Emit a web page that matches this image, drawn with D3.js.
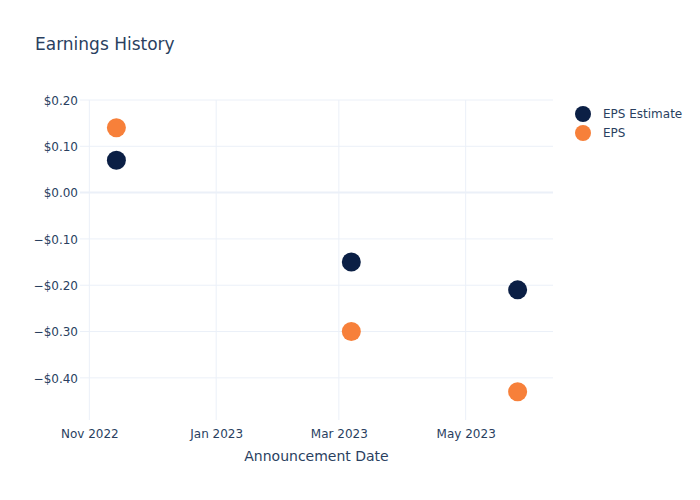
<!DOCTYPE html>
<html><head><meta charset="utf-8">
<script src="https://cdn.jsdelivr.net/npm/d3@7"></script>
<style>body{margin:0;background:#fff;} svg{font-family:"DejaVu Sans",sans-serif;}</style>
</head><body>
<svg id="c" width="700" height="500"></svg>
<script>
const dates = ["2022-11-14", "2023-03-07", "2023-05-26"];
const epsEstimate = [0.07, -0.15, -0.21];
const eps = [0.14, -0.30, -0.43];
const yTicks = [0.2, 0.1, 0, -0.1, -0.2, -0.3, -0.4];
const xTicks = ["2022-11-01", "2023-01-01", "2023-03-01", "2023-05-01"];
const seriesNames = ["EPS Estimate", "EPS"];
const colors = ["#0b1f45", "#f7803a"];

const svg = d3.select("#c");
const W = 700, H = 500, m = {l: 80, r: 147, t: 100, b: 80};
const parse = d3.timeParse("%Y-%m-%d");
const x = d3.scaleTime().domain([d3.timeHour.offset(parse("2022-10-28"), -12), parse("2023-06-12")]).range([m.l, W - m.r]);
const y = d3.scaleLinear().domain([-0.491, 0.2]).range([H - m.b, m.t]);
const grid = "#ebf0f8", txt = "#2a3f5f";
const FF = "'DejaVu Sans',sans-serif";

// grid
svg.append("g").selectAll("line").data(yTicks).join("line")
  .attr("x1", m.l).attr("x2", W - m.r).attr("y1", d => y(d)).attr("y2", d => y(d))
  .attr("stroke", grid).attr("stroke-width", d => d === 0 ? 2 : 1);
svg.append("g").selectAll("line").data(xTicks).join("line")
  .attr("x1", d => x(parse(d))).attr("x2", d => x(parse(d))).attr("y1", m.t).attr("y2", H - m.b)
  .attr("stroke", grid).attr("stroke-width", 1);

// axes via d3 axis
const fmt = d => (d < 0 ? "\u2212" : "") + "$" + Math.abs(d).toFixed(2);
const ya = svg.append("g").attr("transform", `translate(${m.l},0)`)
  .call(d3.axisLeft(y).tickValues(yTicks).tickFormat(fmt).tickSize(0).tickPadding(2));
ya.select(".domain").remove();
ya.selectAll("text").attr("fill", txt).attr("font-size", 12).attr("dy", "0.35em")
  .attr("font-family", FF);

const xa = svg.append("g").attr("transform", `translate(0,${H - m.b})`)
  .call(d3.axisBottom(x).tickValues(xTicks.map(parse)).tickFormat(d3.timeFormat("%b %Y")).tickSize(0).tickPadding(9));
xa.select(".domain").remove();
xa.selectAll("text").attr("fill", txt).attr("font-size", 12)
  .attr("font-family", FF);

// axis title
svg.append("text").attr("x", (m.l + W - m.r) / 2).attr("y", 461).attr("text-anchor", "middle")
  .attr("fill", txt).attr("font-size", 14).text("Announcement Date");

// title
svg.append("text").attr("x", 35).attr("y", 50).attr("fill", txt).attr("font-size", 17).text("Earnings History");

// points
[epsEstimate, eps].forEach((vals, i) => {
  svg.append("g").selectAll("circle").data(vals).join("circle")
    .attr("cx", (d, j) => x(parse(dates[j]))).attr("cy", d => y(d)).attr("r", 9.5)
    .attr("fill", colors[i]);
});

// legend
const lg = svg.append("g");
seriesNames.forEach((n, i) => {
  lg.append("circle").attr("cx", 583).attr("cy", 114 + i * 19).attr("r", 8).attr("fill", colors[i]);
  lg.append("text").attr("x", 603).attr("y", 114 + i * 19).attr("dy", "0.35em").attr("fill", txt)
    .attr("font-size", 12).text(n);
});
</script>
</body></html>
